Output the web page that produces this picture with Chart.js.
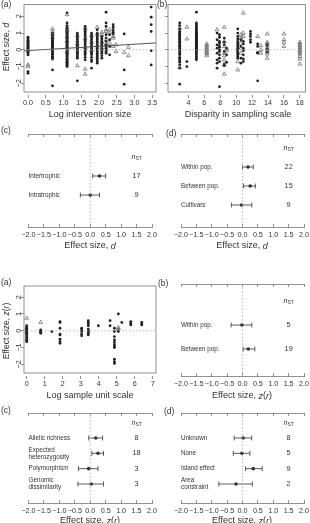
<!DOCTYPE html>
<html>
<head>
<meta charset="utf-8">
<script src="https://cdn.jsdelivr.net/npm/chart.js@4.4.1/dist/chart.umd.min.js"></script>
<style>
  body { margin: 0; background: #fff; width: 310px; height: 523px; overflow: hidden; position: relative; }
  canvas { position: absolute; left: 0; top: 0; }
</style>
</head>
<body>
<canvas id="ta" width="310" height="523"></canvas>
<canvas id="tb" width="310" height="523"></canvas>
<canvas id="tc" width="310" height="523"></canvas>
<canvas id="td" width="310" height="523"></canvas>
<canvas id="ba" width="310" height="523"></canvas>
<canvas id="bb" width="310" height="523"></canvas>
<canvas id="bc" width="310" height="523"></canvas>
<canvas id="bd" width="310" height="523"></canvas>
<script>
// ---------- data ----------
// top (a): log intervention size, one column of effect sizes per x value
const sizeX = [0, 0.69, 1.10, 1.39, 1.61, 1.79, 1.95, 2.08, 2.20, 2.30, 2.40, 2.48, 2.71, 2.83, 3.47];
const sizeDots = [
  [0.75, 0.7, 0.6, 0.55, 0.5, 0.45, 0.4, 0.35, 0.3, 0.25, 0.2, 0.15, 0.1, 0.05, 0, -0.05, -0.1, -0.15, -0.25, -0.3, -1.3, -1.4],
  [1.0, 0.9, 0.85, 0.8, 0.7, 0.65, 0.6, 0.55, 0.5, 0.45, 0.4, 0.35, 0.3, 0.25, 0.2, 0.15, 0.1, 0.05, 0, -0.05, -0.1, -0.2, -0.25, -0.3, -0.4, -0.45, -0.55, -1.2, -2.15],
  [2.2, 1.6, 1.45, 1.35, 1.25, 1.2, 1.1, 1.05, 1.0, 0.95, 0.9, 0.85, 0.8, 0.75, 0.7, 0.65, 0.6, 0.55, 0.5, 0.45, 0.4, 0.35, 0.3, 0.25, 0.2, 0.15, 0.1, 0.05, 0, -0.05, -0.1, -0.15, -0.2, -0.25, -0.3, -0.35, -0.4, -0.5, -0.55, -0.6, -0.65, -0.7, -0.75, -0.8, -0.85, -0.9, -0.95, -1.0],
  [1.0, 0.9, 0.8, 0.7, 0.6, 0.5, 0.45, 0.4, 0.3, 0.25, 0.2, 0.1, 0.05, 0, -0.05, -0.15, -0.2, -0.3, -0.4, -0.5, -1.85],
  [1.4, 1.3, 1.2, 1.1, 1.0, 0.9, 0.8, 0.7, 0.6, 0.5, 0.4, 0.3, 0.2, 0.1, 0, -0.1, -0.2, -0.3, -0.45, -0.6],
  [1.0, 0.9, 0.8, 0.7, 0.6, 0.5, 0.4, 0.3, 0.2, 0.1, 0, -0.1, -0.2, -0.3, -0.45, -0.6, -0.7, -1.1],
  [1.2, 1.0, 0.9, 0.8, 0.7, 0.6, 0.5, 0.4, 0.3, 0.2, 0.1, 0, -0.1, -0.2, -0.3, -0.4, -0.5, -0.6, -0.7, -0.8],
  [0.8, 0.7, 0.6, 0.5, 0.4, 0.3, 0.2, 0.1, 0, -0.1, -0.2, -0.35, -0.5],
  [2.25, 1.6, 1.4, 0.9, 0.7, 0.5, 0.3, 0.2, 0.1, 0, -0.1, -0.2],
  [0.9, 0.6, 0.2, -0.3],
  [1.5, 1.35, 1.2, 1.05, 0.95],
  [],
  [0.95, -1.2, -2.05],
  [],
  [2.55, 1.95, 1.5, 1.1, -0.05, -0.9]
];
const sizeTris = [
  [-0.9, -1.0], [1.25, 1.1, 0.95, 0.75], [2.1, 1.3, 1.15, 0.75, 0.5, -0.1], [0.85, 0.35, -0.95],
  [1.25, 0.65, 0.15, -1.15, -1.45], [0.85, 0.45, -0.05], [1.35, 0.95, 0.25], [1.05, 0.9, 0.45, 0.05],
  [1.2, 1.1, 0.6, 0.35], [1.2, 1.0, 0.4], [0.8, 0.7, 0.2], [0.3, -0.1], [-0.15], [0.15, -0.35], []
];
const sizeFit = [[-0.113, -0.06], [3.606, 0.41]];
const sizeTicks = [0, 0.5, 1, 1.5, 2, 2.5, 3, 3.5];

// top (b): disparity in sampling scale
const dispX = [2.9, 3.8, 5.0, 6.3, 7.6, 7.9, 8.5, 8.8, 10.2, 10.6, 10.9, 11.8, 12.7, 13.1, 13.9, 16.0, 18.0];
const dispDots = [
  [1.6, 1.45, 1.25, 1.1, 1.0, 0.95, 0.9, 0.85, 0.8, 0.7, 0.65, 0.6, 0.5, 0.45, 0.4, 0.3, 0.25, 0.2, 0.1, 0.05, 0, -0.1, -0.2, -0.3, -0.45, -0.55, -0.65, -0.75, -0.9, -1.1, -2.05],
  [-0.7, -1.0],
  [2.25, 1.6, 1.5, 1.4, 1.3, 1.25, 1.2, 1.1, 1.05, 1.0, 0.95, 0.9, 0.85, 0.8, 0.75, 0.7, 0.65, 0.6, 0.55, 0.5, 0.45, 0.4, 0.35, 0.3, 0.25, 0.2, 0.15, 0.1, 0.05, 0, -0.05, -0.1, -0.2, -0.3, -0.4, -0.5, -0.6],
  [],
  [1.0, 0.6, 0.3, 0.1, -0.2, -0.6, -0.8, -1.1],
  [0.9, 0.75, 0.5, 0.4, 0.25, 0.15, 0, -0.1, -0.3, -0.5, -0.7, -2.2],
  [0.7, 0.45, 0.3, -0.1, -0.85, -0.95],
  [0.1, -0.3, -0.75],
  [1.25, 1.0, 0.8, 0.65, 0.5, 0.4, 0.3, 0.2, 0.1, 0, -0.1, -0.2, -0.3, -0.4, -0.5],
  [0.6, 0.2, -0.5, -0.8],
  [0.5, 0.35, 0.1, -0.05, -0.3, -0.55, -0.7],
  [1.1, 0.95, 0.8, 0.6, 0.45],
  [0.35, 0.2, -0.15, -0.2, -1.85],
  [],
  [0.3, 0.05, -0.15],
  [],
  []
];
const dispTris = [
  [1.3, -1.05], [1.35, 0.65], [], [0.35, 0.25, 0.15, 0.05, -0.05, -0.15, -0.25, -0.35], [1.2], [],
  [1.35, 0.5, 0.2, -0.2, -0.35, -0.6, -0.9, -1.45], [0.05, -0.05], [-0.7, -1.2], [0.9, 0.7, 0.4, 0.1, -0.2],
  [2.2, 1.0, 0.8], [], [0.8], [0.25, 0, -0.2], [0.95, 0.45, 0.35, 0.25, 0.1, 0, -0.1, -0.25, -0.5],
  [0.95, 0.6, 0.45, 0.2], [0.45, 0.35, 0.25, 0.15, 0.05, -0.05, -0.15, -0.25, -0.4, -0.55, -0.85]
];
const dispTicks = [4, 6, 8, 10, 12, 14, 16, 18];

// bottom (a): log sample unit scale
const unitX = [0, 0.78, 1.4, 1.85, 3.05, 3.42, 3.98, 4.63, 4.87, 5.09, 5.28, 5.78, 6.39];
const unitDots = [
  [0.3, 0.2, 0.15, 0.1, 0.05, 0, -0.05, -0.1, -0.15, -0.2, -0.3, -0.4, -0.5, -0.6, -0.65],
  [0.05, 0, -0.05, -0.1, -0.15],
  [-0.05],
  [0.55, 0.5, 0.15, -0.2, -0.25, -0.5, -0.65, -0.75],
  [0.15, 0.05, -0.05, -0.2, -0.3],
  [0.6, 0.5, 0.4, 0.3, 0.1, 0, -0.05, -0.15, -0.25],
  [0.3],
  [0.6, 0.3],
  [0.15, -0.05, -0.35, -0.55, -0.7, -0.85, -0.95, -1.0, -1.7, -1.85, -1.95],
  [1.0, 0, -0.05],
  [0.5],
  [0.55, 0.45, 0.35],
  [0.5, 0.4, 0.35]
];
const unitTris = [[0.75], [0.5], [], [], [], [], [], [], [], [0.2, 0.1], [], [], []];
const unitTicks = [0, 1, 2, 3, 4, 5, 6, 7];

const effTicks = [-2, -1, 0, 1, 2];
const forestTicks = [-2, -1.5, -1, -0.5, 0, 0.5, 1, 1.5, 2];

// forest panels: mean, lower and upper limits, sample sizes
const trophLabels = [['Intertrophic'], ['Intratrophic']];
const trophMean = [0.30, 0.00];
const trophLo = [0.08, -0.32];
const trophHi = [0.50, 0.30];
const trophN = [17, 9];

const scaleLabels = [['Within pop.'], ['Between pop.'], ['Cultivars']];
const scaleMean = [0.18, 0.25, -0.03];
const scaleLo = [0.00, 0.03, -0.36];
const scaleHi = [0.35, 0.42, 0.30];
const scaleN = [22, 15, 9];

const popLabels = [['Within pop.'], ['Between pop.']];
const popMean = [-0.02, 0.19];
const popLo = [-0.37, 0.02];
const popHi = [0.30, 0.40];
const popN = [5, 19];

const divLabels = [['Allelic richness'], ['Expected', 'heterozygosity'], ['Polymorphism'], ['Genomic', 'dissimilarity']];
const divMean = [0.18, 0.25, -0.05, 0.03];
const divLo = [-0.05, 0.05, -0.38, -0.40];
const divHi = [0.40, 0.43, 0.25, 0.43];
const divN = [8, 18, 3, 3];

const fragLabels = [['Unknown'], ['None'], ['Island effect'], ['Area', 'constraint']];
const fragMean = [0.02, -0.02, 0.35, -0.21];
const fragLo = [-0.27, -0.30, 0.10, -0.77];
const fragHi = [0.30, 0.24, 0.64, 0.32];
const fragN = [8, 5, 9, 2];

// ---------- drawing ----------
const FONT = "'Liberation Sans', Arial, Helvetica, sans-serif";
const INK = '#333';
const AXIS = '#777';
const XH = 16; // room kept under each bottom axis for its tick labels

function num(v, d) {
  return (v < 0 ? '\u2212' : '') + Math.abs(v).toFixed(d);
}

// text made of runs: [text, style] where style is '', 'i' or 'sub'
function rich(ctx, parts, x, y, size, align, rot) {
  const fontOf = s => (s === 'i' ? 'italic ' : '') + (s === 'sub' ? size * 0.7 : size) + 'px ' + FONT;
  ctx.save();
  ctx.translate(x, y);
  if (rot) ctx.rotate(rot);
  let w = 0;
  parts.forEach(([t, s]) => { ctx.font = fontOf(s); w += ctx.measureText(t).width; });
  let cx = align === 'center' ? -w / 2 : align === 'right' ? -w : 0;
  ctx.textBaseline = 'middle';
  ctx.textAlign = 'left';
  ctx.fillStyle = INK;
  parts.forEach(([t, s]) => {
    ctx.font = fontOf(s);
    ctx.fillText(t, cx, s === 'sub' ? size * 0.3 : 0);
    cx += ctx.measureText(t).width;
  });
  ctx.restore();
}

const rFrame = {
  id: 'rFrame',
  afterDraw(chart, args, o) {
    const ctx = chart.ctx, a = chart.chartArea;
    if (o.box) {
      ctx.save();
      ctx.strokeStyle = AXIS;
      ctx.lineWidth = 0.8;
      ctx.strokeRect(a.left, a.top, a.right - a.left, a.bottom - a.top);
      ctx.restore();
    }
    if (o.yLabels) {
      const ys = chart.scales.y;
      ys.ticks.forEach(t => rich(ctx, [[num(t.value, 0), '']], a.left - o.yLabels, ys.getPixelForValue(t.value), 7.2, 'center', -Math.PI / 2));
    }
    if (o.rows) {
      const xs = chart.scales.x, ys = chart.scales.y;
      const nx = xs.getPixelForValue(1.5);
      rich(ctx, [['n', 'i'], ['ST', 'sub']], nx, ys.getPixelForValue(0), 7, 'center');
      o.rows.labels.forEach((lines, i) => {
        const y = ys.getPixelForValue(i + 1);
        lines.forEach((s, k) => rich(ctx, [[s, '']], a.left, y + (k - (lines.length - 1) / 2) * 7, 6.3, 'left'));
        rich(ctx, [[String(o.rows.n[i]), '']], nx, y, 7.3, 'center');
      });
    }
    (o.texts || []).forEach(t => rich(ctx, t.p, t.x, t.y, t.s || 9, t.a || 'center', t.r || 0));
  }
};
Chart.register(rFrame);

// bottom axes keep XH of height so their labels are not clipped, others take no room
const fitTo = h => s => {
  if (s.isHorizontal()) s.height = h; else s.width = 0;
  s.paddingLeft = s.paddingRight = s.paddingTop = s.paddingBottom = 0;
};
const pad = a => ({ left: a.l, top: a.t, right: 310 - a.r, bottom: 523 - a.b - XH });
const tickFont = { family: FONT, size: 7.2 };

const pts = (xs, cols) => xs.flatMap((x, i) => cols[i].map(y => ({ x, y })));

function scatterPanel(id, area, xs, dots, tris, xr, yr, xticks, dec, extra, plugin) {
  const datasets = [
    { data: [{ x: xr[0], y: 0 }, { x: xr[1], y: 0 }], showLine: true, borderColor: '#a8a8a8', borderWidth: 0.8, borderDash: [1.5, 2], pointRadius: 0 },
    ...extra,
    { data: pts(xs, tris), pointStyle: 'triangle', pointRadius: 2.2, backgroundColor: 'rgba(0,0,0,0)', borderColor: '#4a4a4a', borderWidth: 0.6 },
    { data: pts(xs, dots), pointStyle: 'circle', pointRadius: 1.4, backgroundColor: '#222', borderWidth: 0 }
  ];
  new Chart(document.getElementById(id), {
    type: 'scatter',
    data: { datasets },
    options: {
      responsive: false, animation: false, events: [],
      layout: { padding: pad(area) },
      plugins: { legend: { display: false }, tooltip: { enabled: false }, rFrame: plugin },
      scales: {
        x: {
          type: 'linear', min: xr[0], max: xr[1],
          afterBuildTicks: s => { s.ticks = xticks.map(v => ({ value: v })); },
          afterFit: fitTo(XH),
          grid: { drawOnChartArea: false, tickLength: 6, tickColor: AXIS, tickWidth: 0.8, tickBorderDash: [0, 3, 3, 20] },
          border: { display: false },
          ticks: { padding: 1, autoSkip: false, maxRotation: 0, color: INK, font: tickFont, callback: v => num(v, dec) }
        },
        y: {
          type: 'linear', min: yr[0], max: yr[1],
          afterBuildTicks: s => { s.ticks = effTicks.map(v => ({ value: v })); },
          afterFit: fitTo(0),
          grid: { drawOnChartArea: false, tickLength: 3, tickColor: AXIS, tickWidth: 0.8 },
          border: { display: false },
          ticks: { display: false }
        }
      }
    }
  });
}

function forestPanel(id, area, yr, labels, mean, lo, hi, n, texts) {
  const bars = mean.map((m, i) => ({
    data: [{ x: lo[i], y: i + 1 }, { x: hi[i], y: i + 1 }], showLine: true,
    borderColor: INK, borderWidth: 0.8, pointStyle: 'line', pointRotation: 90,
    pointRadius: 2.5, pointBorderColor: INK, pointBorderWidth: 0.8
  }));
  const axisOpts = (pos, show) => ({
    type: 'linear', position: pos, min: -2, max: 2,
    afterBuildTicks: s => { s.ticks = forestTicks.map(v => ({ value: v })); },
    afterFit: fitTo(show ? XH : 0),
    grid: { drawOnChartArea: false, tickLength: -3, tickColor: AXIS, tickWidth: 0.8 },
    border: { display: true, color: AXIS, width: 0.8 },
    ticks: { display: show, padding: 6.5, autoSkip: false, maxRotation: 0, color: INK, font: tickFont, callback: v => num(v, 1) }
  });
  new Chart(document.getElementById(id), {
    type: 'scatter',
    data: {
      datasets: [
        { data: [{ x: 0, y: yr[0] }, { x: 0, y: yr[1] }], showLine: true, borderColor: '#a8a8a8', borderWidth: 0.8, borderDash: [1.5, 2], pointRadius: 0 },
        ...bars,
        { data: mean.map((m, i) => ({ x: m, y: i + 1 })), pointRadius: 1.8, backgroundColor: INK, borderWidth: 0 }
      ]
    },
    options: {
      responsive: false, animation: false, events: [],
      layout: { padding: pad(area) },
      plugins: { legend: { display: false }, tooltip: { enabled: false }, rFrame: { rows: { labels, n }, texts } },
      scales: {
        x: axisOpts('bottom', true),
        x2: axisOpts('top', false),
        y: { type: 'linear', display: false, reverse: true, min: yr[0], max: yr[1] }
      }
    }
  });
}

const HALF = -Math.PI / 2;
const dTitle = [['Effect size, ', ''], ['d', 'i']];
const zTitle = [['Effect size, ', ''], ['z', 'i'], ['(', ''], ['r', 'i'], [')', '']];

scatterPanel('ta', { l: 24, t: 2, r: 156, b: 92 }, sizeX, sizeDots, sizeTris, [-0.113, 3.606], [-2.52, 2.70], sizeTicks, 1,
  [{ data: sizeFit.map(p => ({ x: p[0], y: p[1] })), showLine: true, borderColor: '#555', borderWidth: 1, pointRadius: 0 }],
  { box: true, yLabels: 4.5, texts: [
    { p: [['(a)', '']], x: 1, y: 5, s: 8.5, a: 'left' },
    { p: dTitle, x: 7, y: 47, s: 8.5, r: HALF },
    { p: [['Log intervention size', '']], x: 90, y: 115 }
  ] });

scatterPanel('tb', { l: 168, t: 2, r: 309, b: 92 }, dispX, dispDots, dispTris, [1.43, 18.7], [-2.52, 2.70], dispTicks, 0, [],
  { box: true, texts: [
    { p: [['(b)', '']], x: 157, y: 5, s: 8.5, a: 'left' },
    { p: [['Disparity in sampling scale', '']], x: 238, y: 115 }
  ] });

forestPanel('tc', { l: 28.5, t: 134, r: 152, b: 227 }, [-1.21, 3.68], trophLabels, trophMean, trophLo, trophHi, trophN, [
  { p: [['(c)', '']], x: 1, y: 131, s: 8.5, a: 'left' },
  { p: dTitle, x: 90, y: 246 }
]);

forestPanel('td', { l: 181, t: 134, r: 304, b: 227 }, [-0.737, 4.158], scaleLabels, scaleMean, scaleLo, scaleHi, scaleN, [
  { p: [['(d)', '']], x: 166, y: 134, s: 8.5, a: 'left' },
  { p: dTitle, x: 242, y: 246 }
]);

scatterPanel('ba', { l: 24, t: 286, r: 156, b: 373 }, unitX, unitDots, unitTris, [-0.15, 7.18], [-2.52, 2.67], unitTicks, 0, [],
  { box: true, yLabels: 4.5, texts: [
    { p: [['(a)', '']], x: 1, y: 283, s: 8.5, a: 'left' },
    { p: zTitle, x: 7, y: 331, s: 8.5, r: HALF },
    { p: [['Log sample unit scale', '']], x: 90, y: 396 }
  ] });

forestPanel('bb', { l: 181, t: 284, r: 304, b: 376 }, [-0.71, 3.125], popLabels, popMean, popLo, popHi, popN, [
  { p: [['(b)', '']], x: 158, y: 284, s: 8.5, a: 'left' },
  { p: zTitle, x: 242, y: 396 }
]);

forestPanel('bc', { l: 28.5, t: 413, r: 152, b: 503 }, [-0.63, 5.24], divLabels, divMean, divLo, divHi, divN, [
  { p: [['(c)', '']], x: 1, y: 411, s: 8.5, a: 'left' },
  { p: zTitle, x: 90, y: 521 }
]);

forestPanel('bd', { l: 181, t: 413, r: 304, b: 503 }, [-0.63, 5.24], fragLabels, fragMean, fragLo, fragHi, fragN, [
  { p: [['(d)', '']], x: 164, y: 412, s: 8.5, a: 'left' },
  { p: zTitle, x: 242, y: 521 }
]);
</script>
</body>
</html>
